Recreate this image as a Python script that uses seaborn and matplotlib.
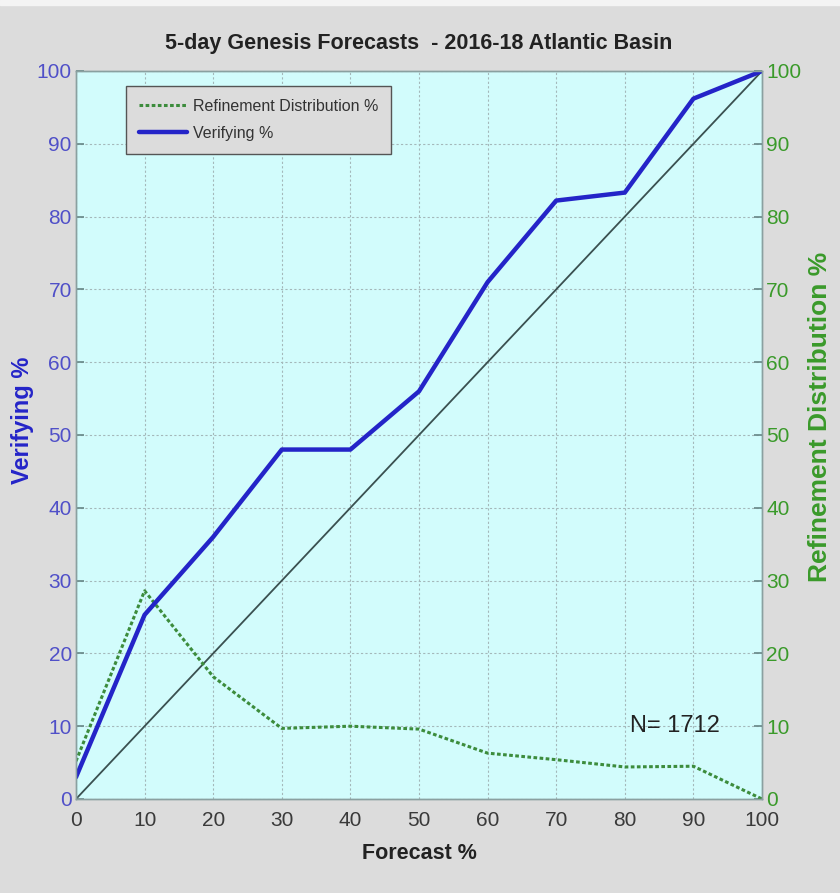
import matplotlib
matplotlib.use("Agg")
import matplotlib.pyplot as plt
import seaborn as sns
import pandas as pd

# ── Data ────────────────────────────────────────────────────────────────────
forecast_pct   = [0, 10, 20, 30, 40, 50, 60, 70, 80, 90, 100]
verifying_pct  = [3, 25.3, 36, 48, 48, 56, 71, 82.2, 83.3, 96.2, 100]
refinement_pct = [5.2, 28.6, 16.8, 9.7, 10, 9.6, 6.3, 5.4, 4.4, 4.5, 0]
perfect_line   = [0, 100]
tick_vals      = list(range(0, 101, 10))
n_forecasts    = 1712

df = pd.DataFrame({"forecast": forecast_pct,
                   "verifying": verifying_pct,
                   "refinement": refinement_pct})

BLUE      = "#2424c8"
BLUE_TXT  = "#5050c8"
GREEN     = "#3c8c3c"
GREEN_TXT = "#3a9a2a"

sns.set_theme(style="white")
plt.rcParams["font.family"] = ["Liberation Sans", "DejaVu Sans"]

fig = plt.figure(figsize=(8.4, 8.93), dpi=100, facecolor="#dcdcdc")
# thin white strip along the top edge
fig.patches.append(plt.Rectangle((0, 1 - 5 / 893), 1, 5 / 893,
                                 transform=fig.transFigure, color="#f4f4f4",
                                 zorder=-1))
ax = fig.add_axes([76 / 840, 1 - 799 / 893, 686 / 840, 728 / 893])
ax.set_facecolor("#d2fcfc")

# perfect reliability diagonal
sns.lineplot(x=perfect_line, y=perfect_line, color="#3a5050", lw=1.3, ax=ax,
             legend=False)

ax2 = ax.twinx()
sns.lineplot(data=df, x="forecast", y="refinement", color=GREEN, lw=2.2,
             linestyle=(0, (1.2, 0.8)), ax=ax2, label="Refinement Distribution %")
sns.lineplot(data=df, x="forecast", y="verifying", color=BLUE, lw=3.2, ax=ax2,
             label="Verifying %")

for a in (ax, ax2):
    a.set_xlim(0, 100)
    a.set_ylim(0, 100)
    a.set_xticks(tick_vals)
    a.set_yticks(tick_vals)

ax.grid(True, color="#a4b8ba", linestyle=(0, (2, 2)), lw=0.8)
ax.tick_params(axis="both", direction="in", length=6, labelsize=15)
ax.tick_params(axis="y", colors="#6a8a8a", labelcolor=BLUE_TXT, pad=3)
ax.tick_params(axis="x", colors="#6a8a8a", labelcolor="#3a3a3a", pad=9)
ax2.tick_params(axis="y", direction="in", length=6, labelsize=15, pad=3,
                colors="#6a8a8a", labelcolor=GREEN_TXT)
for a in (ax, ax2):
    for s in a.spines.values():
        s.set_color("#8aa0a0")
        s.set_linewidth(1.0)

ax.set_xlabel("Forecast %", fontsize=15.5, fontweight="bold", color="#222222")
ax.xaxis.set_label_coords(0.5, -0.060)
ax.set_ylabel("Verifying %", fontsize=17, fontweight="bold", color=BLUE)
ax.yaxis.set_label_coords(-0.061, 0.52)
ax2.set_ylabel("Refinement Distribution %", fontsize=19, fontweight="bold",
               color=GREEN_TXT)
ax2.yaxis.set_label_coords(1.067, 0.525)
ax2.set_xlabel("")
ax.set_title("5-day Genesis Forecasts  - 2016-18 Atlantic Basin",
             fontsize=15.5, fontweight="bold", color="#222222", pad=16)

ax2.text(87.3, 10, f"N= {n_forecasts}", fontsize=17, color="#222222",
         ha="center", va="center")

leg = ax2.legend(loc="upper left", bbox_to_anchor=(0.073, 0.979),
                 borderaxespad=0, frameon=True, fancybox=False, fontsize=11.5,
                 handlelength=3.0, borderpad=0.8, labelspacing=0.75,
                 handletextpad=0.4)
leg.get_frame().set_facecolor("#dcdcdc")
leg.get_frame().set_edgecolor("#555555")
leg.get_frame().set_alpha(1)
for t in leg.get_texts():
    t.set_color("#333333")

fig.savefig("out.png", dpi=100, facecolor=fig.get_facecolor())
